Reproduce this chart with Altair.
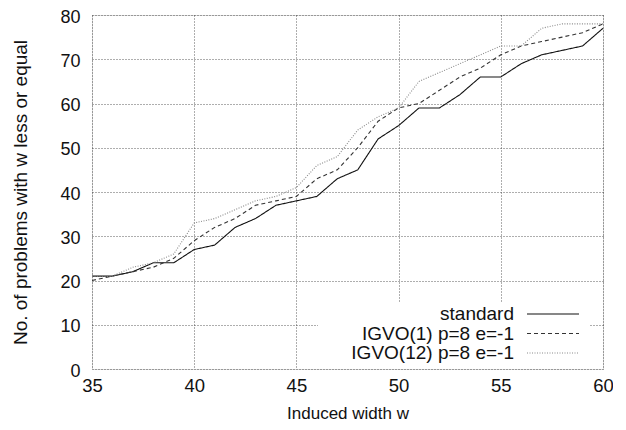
import altair as alt
import pandas as pd

widths = list(range(35, 61))
standard = [21, 21, 22, 24, 24, 27, 28, 32, 34, 37, 38, 39, 43, 45, 52, 55, 59, 59, 62, 66, 66, 69, 71, 72, 73, 77]
igvo1 = [20, 21, 22, 23, 25, 29, 32, 34, 37, 38, 39, 43, 45, 50, 56, 59, 60, 63, 66, 68, 71, 73, 74, 75, 76, 78]
igvo12 = [21, 21, 23, 24, 26, 33, 34, 36, 38, 39, 41, 46, 48, 54, 57, 59, 65, 67, 69, 71, 73, 73, 77, 78, 78, 78]

series_names = ["standard", "IGVO(1) p=8 e=-1", "IGVO(12) p=8 e=-1"]
series_colors = ["#111111", "#333333", "#8a8a8a"]
series_dash = [[1, 0], [4, 3], [1, 1.5]]

rows = []
for name, vals in zip(series_names, [standard, igvo1, igvo12]):
    for w, v in zip(widths, vals):
        rows.append({"w": w, "n": v, "series": name})
df = pd.DataFrame(rows)

FONT = "Liberation Sans"
W, H = 511, 354

xscale = alt.Scale(domain=[35, 60], nice=False, zero=False)
yscale = alt.Scale(domain=[0, 80], nice=False)

lines = alt.Chart(df).mark_line(strokeWidth=1.1, clip=True).encode(
    x=alt.X("w:Q", scale=xscale,
            axis=alt.Axis(values=[35, 40, 45, 50, 55, 60], title="Induced width w",
                          ticks=False, labelPadding=7, labelFontSize=18.5, labelFont=FONT,
                          labelColor="#111", titleFont=FONT, titleFontSize=17,
                          titleFontWeight="normal", titleColor="#111",
                          titleX=W / 2, titleY=44, titleBaseline="middle",
                          grid=True, gridDash=[1, 2], gridColor="#333", gridWidth=0.8,
                          domain=False, labelFlush=False)),
    y=alt.Y("n:Q", scale=yscale,
            axis=alt.Axis(values=[0, 10, 20, 30, 40, 50, 60, 70, 80],
                          title="No. of problems with w less or equal",
                          ticks=False, labelPadding=12, labelFontSize=18, labelFont=FONT,
                          labelOffset=2,
                          labelColor="#111", titleFont=FONT, titleFontSize=19,
                          titleFontWeight="normal", titleColor="#111",
                          titleX=-72, titleY=H / 2, titleAngle=-90, titleBaseline="middle",
                          titleAlign="center",
                          grid=True, gridDash=[1, 2], gridColor="#333", gridWidth=0.8,
                          domain=False, labelFlush=False)),
    color=alt.Color("series:N", scale=alt.Scale(domain=series_names, range=series_colors), legend=None),
    strokeDash=alt.StrokeDash("series:N", scale=alt.Scale(domain=series_names, range=series_dash), legend=None),
    detail="series:N",
)

# legend box (white background masking grid) drawn in pixel space
leg_bg = alt.Chart(pd.DataFrame({"a": [0]})).mark_rect(fill="white", stroke=None).encode(
    x=alt.value(226), x2=alt.value(498), y=alt.value(288), y2=alt.value(353)
)

leg_df = pd.DataFrame({
    "series": series_names,
    "ty": [299, 318.5, 338],
})
leg_text = alt.Chart(leg_df).mark_text(align="right", baseline="middle", font=FONT, fontSize=19,
                                       color="#111").encode(
    x=alt.value(422), y=alt.Y("ty:Q", scale=None), text="series:N"
)
leg_lines = alt.Chart(leg_df).mark_rule(strokeWidth=1.1).encode(
    x=alt.value(435), x2=alt.value(487), y=alt.Y("ty:Q", scale=None),
    color=alt.Color("series:N", scale=alt.Scale(domain=series_names, range=series_colors), legend=None),
    strokeDash=alt.StrokeDash("series:N", scale=alt.Scale(domain=series_names, range=series_dash), legend=None),
)

chart = alt.layer(lines, leg_bg, leg_text, leg_lines).properties(
    width=W, height=H,
    autosize=alt.AutoSizeParams(type="none"),
    padding={"left": 84, "top": 7, "right": 10, "bottom": 53},
).configure_view(stroke="#222", strokeWidth=1.2).configure(background="white")

chart.save("out.html", embed_options={"renderer": "svg", "actions": False})
